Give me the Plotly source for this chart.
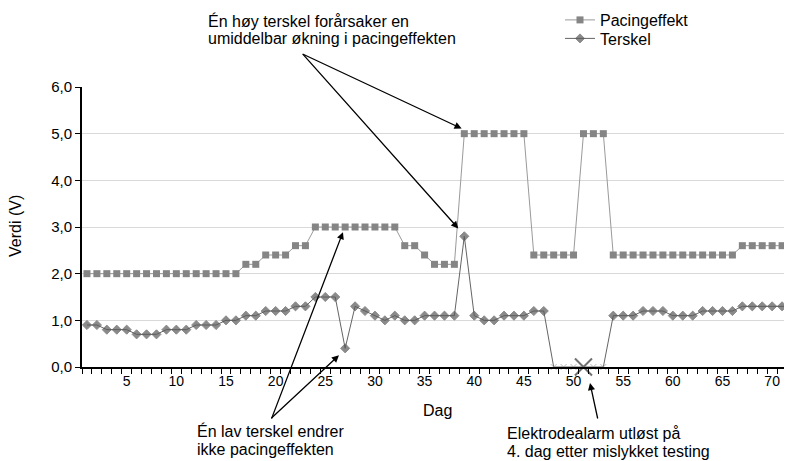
import plotly.graph_objects as go

days = list(range(1, 73))
pacing = ([2.0] * 16 + [2.2] * 2 + [2.4] * 3 + [2.6] * 2 + [3.0] * 9 + [2.6] * 2 + [2.4]
          + [2.2] * 3 + [5.0] * 7 + [2.4] * 5 + [5.0] * 3 + [2.4] * 13 + [2.6] * 6)
terskel = [0.9, 0.9, 0.8, 0.8, 0.8, 0.7, 0.7, 0.7, 0.8, 0.8, 0.8, 0.9, 0.9, 0.9, 1.0, 1.0,
           1.1, 1.1, 1.2, 1.2, 1.2, 1.3, 1.3, 1.5, 1.5, 1.5, 0.4, 1.3, 1.2, 1.1, 1.0, 1.1,
           1.0, 1.0, 1.1, 1.1, 1.1, 1.1, 2.8, 1.1, 1.0, 1.0, 1.1, 1.1, 1.1, 1.2, 1.2,
           0.0, 0.0, 0.0, 0.0, 0.0, 0.0,
           1.1, 1.1, 1.1, 1.2, 1.2, 1.2, 1.1, 1.1, 1.1, 1.2, 1.2, 1.2, 1.2,
           1.3, 1.3, 1.3, 1.3, 1.3, 1.3]
alarm_day = [51]
alarm_value = [0.0]
y_ticks = [0, 1, 2, 3, 4, 5, 6]

FONT = "Liberation Sans, Arial, sans-serif"
OFF = 8  # page body margin of the saved html
FW, FH = 792 - OFF, 461 - OFF
L, T, W, H = 82 - OFF, 87 - OFF, 710, 280


def px_x(px):
    return (px - OFF - L) / W


def px_y(py):
    return (T + H - (py - OFF)) / H


fig = go.Figure()
fig.add_trace(go.Scatter(
    x=days, y=pacing, name="Pacingeffekt", mode="lines+markers", legend="legend",
    line=dict(color="#9a9a9a", width=1),
    marker=dict(symbol="square", size=7, color="#858585"),
))
sym = ["diamond" if v > 0 else "x-thin" for v in terskel]
msize = [7 if v > 0 else 6 for v in terskel]
mcol = ["#5a5a5a" if v > 0 else "#a0a0a0" for v in terskel]
fig.add_trace(go.Scatter(
    x=days, y=terskel, name="Terskel", mode="lines+markers", legend="legend2",
    cliponaxis=False,
    line=dict(color="#646464", width=1),
    marker=dict(symbol=sym, size=msize, color=mcol, line=dict(width=1, color=mcol)),
))
fig.add_trace(go.Scatter(
    x=alarm_day, y=alarm_value, mode="markers", showlegend=False, cliponaxis=False,
    marker=dict(symbol="x-thin", size=17, line=dict(width=2, color="#707070")),
))

arrows = [
    dict(x=38.73, y=5.11, ax=-160, ay=-75),
    dict(x=38.39, y=2.97, ax=-157, ay=-176),
    dict(x=26.38, y=0.25, ax=-69, ay=64),
    dict(x=26.78, y=2.89, ax=-72, ay=188),
]
for a in arrows:
    fig.add_annotation(x=a["x"], y=a["y"], ax=a["ax"], ay=a["ay"], xref="x", yref="y",
                       text="", showarrow=True, arrowhead=2, arrowsize=1.1,
                       arrowwidth=1.3, arrowcolor="black")
# alarm arrow (head below the axis, so placed in paper space)
fig.add_annotation(x=px_x(590), y=px_y(383), ax=8, ay=37, xref="paper", yref="paper",
                   text="", showarrow=True, arrowhead=2, arrowsize=1.1,
                   arrowwidth=1.3, arrowcolor="black")

# (left x, center y, text) in reference pixels
texts = [
    (206, 21, "Én høy terskel forårsaker en"),
    (206, 39, "umiddelbar økning i pacingeffekten"),
    (195, 431, "Én lav terskel endrer"),
    (195, 449, "ikke pacingeffekten"),
    (505, 433, "Elektrodealarm utløst på"),
    (505, 451, "4. dag etter mislykket testing"),
]
for px, py, t in texts:
    fig.add_annotation(x=px_x(px), y=px_y(py), xref="paper", yref="paper",
                       xanchor="left", yanchor="middle", align="left", showarrow=False,
                       text=t, font=dict(size=16, color="black", family=FONT))

fig.add_annotation(x=px_x(437), y=px_y(411), xref="paper", yref="paper",
                   text="Dag", showarrow=False, xanchor="center", yanchor="middle",
                   font=dict(size=16, family=FONT, color="black"))
fig.add_annotation(x=px_x(15), y=px_y(226), xref="paper", yref="paper",
                   text="Verdi (V)", showarrow=False, xanchor="center", yanchor="middle",
                   textangle=-90, font=dict(size=16, family=FONT, color="black"))

leg_common = dict(xanchor="left", yanchor="middle",
                  bgcolor="rgba(0,0,0,0)", font=dict(size=16, family=FONT, color="black"),
                  borderwidth=0)
fig.update_layout(
    width=FW, height=FH,
    margin=dict(l=L, r=FW - L - W, t=T, b=FH - T - H, autoexpand=False),
    paper_bgcolor="white", plot_bgcolor="white",
    separators=", ",
    font=dict(family=FONT, size=14, color="black"),
    legend=dict(x=px_x(560), y=px_y(20), **leg_common),
    legend2=dict(x=px_x(560), y=px_y(38.5), **leg_common),
    showlegend=True,
)
fig.update_xaxes(
    range=[0.5, 72.0], tick0=5, dtick=5, ticks="", showgrid=False, zeroline=False,
    showline=True, linecolor="black", linewidth=2, automargin=False,
    minor=dict(tick0=0.5, dtick=1, ticks="outside", ticklen=5, tickcolor="black",
               tickwidth=1, showgrid=False),
    tickfont=dict(size=14),
)
fig.update_yaxes(
    range=[0, 6], tickvals=y_ticks, tickformat=".1f", ticks="outside", ticklen=5,
    tickcolor="black", showline=True, linecolor="black", linewidth=2,
    showgrid=True, gridcolor="#d9d9d9", gridwidth=1, zeroline=False, automargin=False,
    tickfont=dict(size=15),
)
fig.write_html("out.html")
